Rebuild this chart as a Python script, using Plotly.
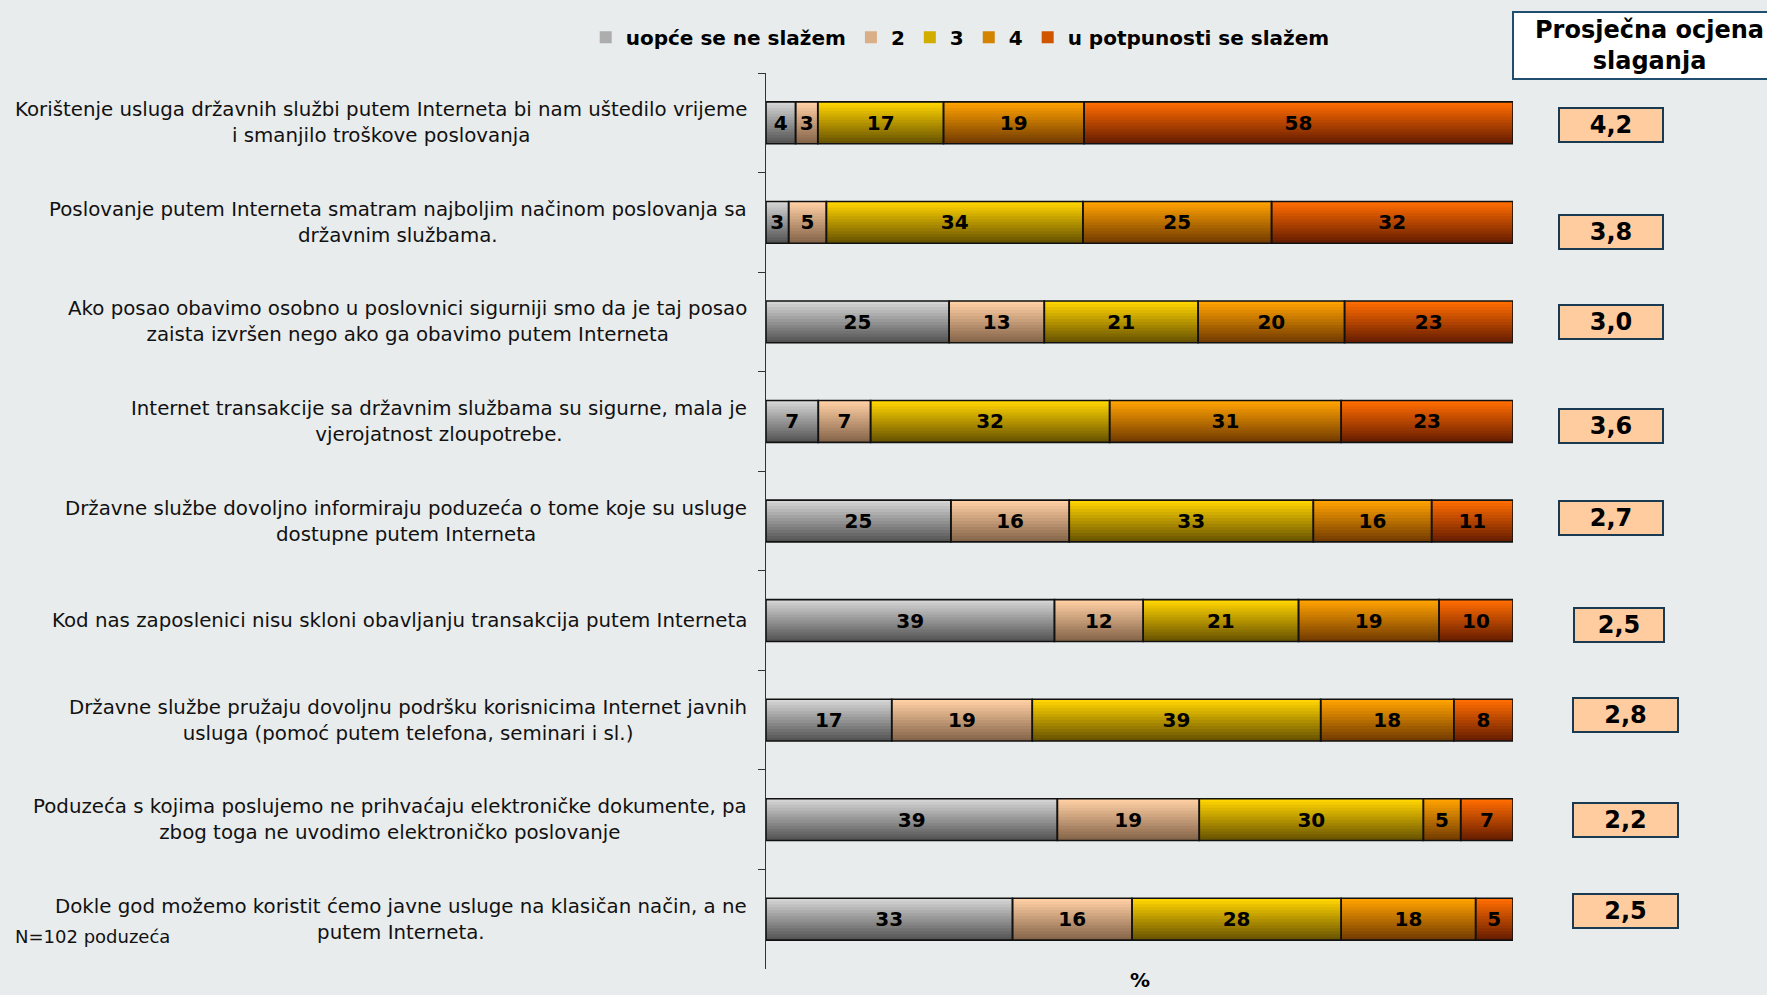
import plotly.graph_objects as go

# statements (top to bottom)
categories = [
    "Korištenje usluga državnih službi putem Interneta bi nam uštedilo vrijeme<br>i smanjilo troškove poslovanja",
    "Poslovanje putem Interneta smatram najboljim načinom poslovanja sa<br>državnim službama.",
    "Ako posao obavimo osobno u poslovnici sigurniji smo da je taj posao<br>zaista izvršen nego ako ga obavimo putem Interneta",
    "Internet transakcije sa državnim službama su sigurne, mala je<br>vjerojatnost zloupotrebe.",
    "Državne službe dovoljno informiraju poduzeća o tome koje su usluge<br>dostupne putem Interneta",
    "Kod nas zaposlenici nisu skloni obavljanju transakcija putem Interneta",
    "Državne službe pružaju dovoljnu podršku korisnicima Internet javnih<br>usluga (pomoć putem telefona, seminari i sl.)",
    "Poduzeća s kojima poslujemo ne prihvaćaju elektroničke dokumente, pa<br>zbog toga ne uvodimo elektroničko poslovanje",
    "Dokle god možemo koristit ćemo javne usluge na klasičan način, a ne<br>putem Interneta.",
]

series_names = ["uopće se ne slažem", "2", "3", "4", "u potpunosti se slažem"]
s1 = [4, 3, 25, 7, 25, 39, 17, 39, 33]
s2 = [3, 5, 13, 7, 16, 12, 19, 19, 16]
s3 = [17, 34, 21, 32, 33, 21, 39, 30, 28]
s4 = [19, 25, 20, 31, 16, 19, 18, 5, 18]
s5 = [58, 32, 23, 23, 11, 10, 8, 7, 5]
series = [s1, s2, s3, s4, s5]

avg_scores = [4.2, 3.8, 3.0, 3.6, 2.7, 2.5, 2.8, 2.2, 2.5]

# styling
FONT = "DejaVu Sans"
BG = "#e9ecec"
# gradient per series: (top colour, bottom colour)
grad = [
    ("#d4d4d4", "#555555"),
    ("#ffcfa4", "#86664a"),
    ("#ffd400", "#6a5400"),
    ("#ffa200", "#743c00"),
    ("#ff6c00", "#6a1e00"),
]
BAR_W = 0.42
N_STRIPES = 14

# score boxes placement (paper x, pixel shift, box width)
score_x = [1.131] * 5 + [1.142] + [1.151] * 3
score_shift = [-2, -10, 0, -5, 3, -4, 5, 0, 8]
score_w = [100] * 5 + [86] + [101] * 3


def hex_rgb(h):
    h = h.lstrip("#")
    return [int(h[i:i + 2], 16) for i in (0, 2, 4)]


def mix(c1, c2, t):
    a, b = hex_rgb(c1), hex_rgb(c2)
    return "rgb(%d,%d,%d)" % tuple(round(a[i] + (b[i] - a[i]) * t) for i in range(3))


# normalise rows to 100 % and get stacked bases
totals = [sum(col) for col in zip(*series)]
norm = [[v / t * 100 for v, t in zip(s, totals)] for s in series]
bases = []
run = [0.0] * len(categories)
for s in norm:
    bases.append(list(run))
    run = [r + v for r, v in zip(run, s)]

fig = go.Figure()

# gradient fill: overlapping stripes, drawn top to bottom
step = BAR_W / N_STRIPES
for k, s in enumerate(norm):
    top, bot = grad[k]
    for j in range(N_STRIPES):
        t = j / (N_STRIPES - 1)
        off = -BAR_W / 2 + j * step
        w = min(2.5 * step, BAR_W / 2 - off)
        fig.add_trace(go.Bar(
            y=categories, x=s, base=bases[k], orientation="h",
            width=w, offset=off,
            marker=dict(color=mix(top, bot, t), line=dict(width=0)),
            name=series_names[k], showlegend=(j == N_STRIPES // 3),
            legendrank=k, hoverinfo="skip",
        ))

# outlines + value labels
for k, s in enumerate(norm):
    fig.add_trace(go.Bar(
        y=categories, x=s, base=bases[k], orientation="h",
        width=BAR_W, offset=-BAR_W / 2,
        marker=dict(color="rgba(0,0,0,0)", line=dict(color="#111111", width=1.6)),
        text=[str(v) for v in series[k]], textposition="inside",
        insidetextanchor="middle", textangle=0,
        textfont=dict(family=FONT, size=20, color="black", weight="bold"),
        showlegend=False, hoverinfo="skip",
    ))

annotations = []
for cat in categories:
    annotations.append(dict(
        x=-0.0228, xref="paper", y=cat, yref="y", xanchor="right", yanchor="middle",
        text=cat, align="center", showarrow=False,
        font=dict(family=FONT, size=19.8, color="#111111"),
    ))

for cat, sc, px, sh, w in zip(categories, avg_scores, score_x, score_shift, score_w):
    annotations.append(dict(
        x=px, xref="paper", y=cat, yref="y", yshift=sh, xanchor="center", yanchor="middle",
        text=f"{sc:.1f}".replace(".", ","), showarrow=False,
        width=w, height=30, borderpad=1,
        bgcolor="#ffcc9f", bordercolor="#1a3a52", borderwidth=2,
        font=dict(family=FONT, size=24, color="black", weight="bold"),
    ))

annotations += [
    dict(x=1.183, xref="paper", y=1.031, yref="paper", xanchor="center", yanchor="middle",
         text="Prosječna ocjena<br>slaganja", showarrow=False, align="center",
         font=dict(family=FONT, size=24, color="black", weight="bold")),
    dict(x=-1.008, xref="paper", y=0.036, yref="paper", xanchor="left", yanchor="middle",
         text="N=102 poduzeća", showarrow=False,
         font=dict(family=FONT, size=18, color="#111111")),
    dict(x=0.5, xref="paper", y=-0.028, yref="paper", xanchor="center", yanchor="bottom",
         text="%", showarrow=False,
         font=dict(family=FONT, size=20, color="black", weight="bold")),
]

fig.update_layout(
    width=1767, height=995,
    margin=dict(l=766, r=254, t=73, b=26),
    paper_bgcolor=BG, plot_bgcolor=BG,
    barmode="overlay",
    font=dict(family=FONT, color="#111111"),
    xaxis=dict(range=[0, 100], showgrid=False, zeroline=False, showticklabels=False,
               showline=False, ticks=""),
    yaxis=dict(autorange="reversed", showgrid=False, zeroline=False, showticklabels=False,
               showline=True, linecolor="#333333", linewidth=1,
               ticks="outside", tickson="boundaries", ticklen=7, tickcolor="#333333"),
    legend=dict(orientation="h", x=0.26, y=1.04, xanchor="center", yanchor="middle",
                traceorder="normal", bgcolor="rgba(0,0,0,0)",
                font=dict(family=FONT, size=20, color="black", weight="bold"),
                itemwidth=30),
    shapes=[dict(type="rect", xref="paper", yref="paper", x0=1.0, x1=1.4, y0=0.9933, y1=1.068,
                 line=dict(color="#1f4e6e", width=2), fillcolor="white", layer="below")],
    annotations=annotations,
)

fig.write_html("out.html", config={"displayModeBar": False},
               post_script="document.body.style.margin='0';document.body.style.overflow='hidden';")
